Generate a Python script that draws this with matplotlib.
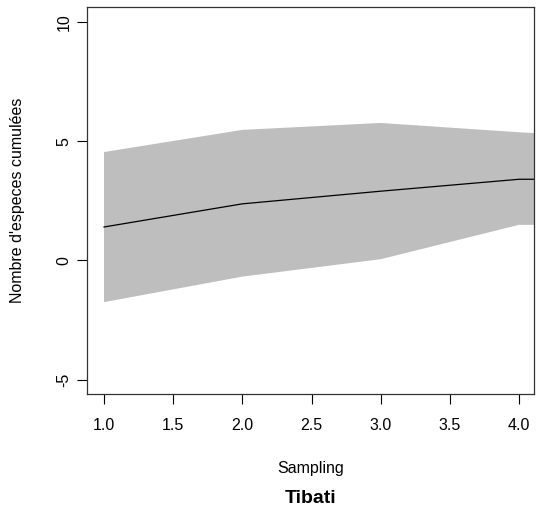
import matplotlib.pyplot as plt
import numpy as np

plt.rcParams['font.family'] = ['Liberation Sans', 'DejaVu Sans']

# species accumulation (Tibati)
sampling = [1, 2, 3, 4, 5]
richness = [1.40, 2.37, 2.90, 3.40, 3.40]
upper = [4.54, 5.47, 5.76, 5.37, 5.05]
lower = [-1.75, -0.68, 0.05, 1.49, 1.49]

x_ticks = [1.0, 1.5, 2.0, 2.5, 3.0, 3.5, 4.0]
y_ticks = [-5, 0, 5, 10]

W, H = 545, 513
fig = plt.figure(figsize=(W / 100, H / 100), dpi=100)
ax = fig.add_axes([87 / W, 1 - 394 / H, 447 / W, 387 / H])

ax.fill_between(sampling, lower, upper, color='#bebebe', linewidth=0)
ax.plot(sampling, richness, color='black', linewidth=0.9)

ax.set_xlim(0.877, 4.108)
ax.set_ylim(-5.6, 10.62)
ax.set_xticks(x_ticks)
ax.set_xticklabels(['%.1f' % t for t in x_ticks])
ax.set_yticks(y_ticks)
ax.set_yticklabels([str(t) for t in y_ticks], rotation=90, va='center')

ax.tick_params(axis='both', direction='out', length=7.2, width=0.8,
               labelsize=11.5, colors='black')
ax.tick_params(axis='x', pad=10)
ax.tick_params(axis='y', pad=4)

for sp in ax.spines.values():
    sp.set_linewidth(0.9)
    sp.set_color('#333333')

fig.text(310.5 / W, 1 - 473 / H, 'Sampling', ha='center', va='baseline', fontsize=11.5)
fig.text(310.5 / W, 1 - 503 / H, 'Tibati', ha='center', va='baseline',
         fontsize=14, fontweight='bold')
fig.text(18 / W, 1 - 200.5 / H, "Nombre d'especes cumulées", ha='center', va='center',
         rotation=90, fontsize=11.5)

fig.savefig('out.png', dpi=100)
